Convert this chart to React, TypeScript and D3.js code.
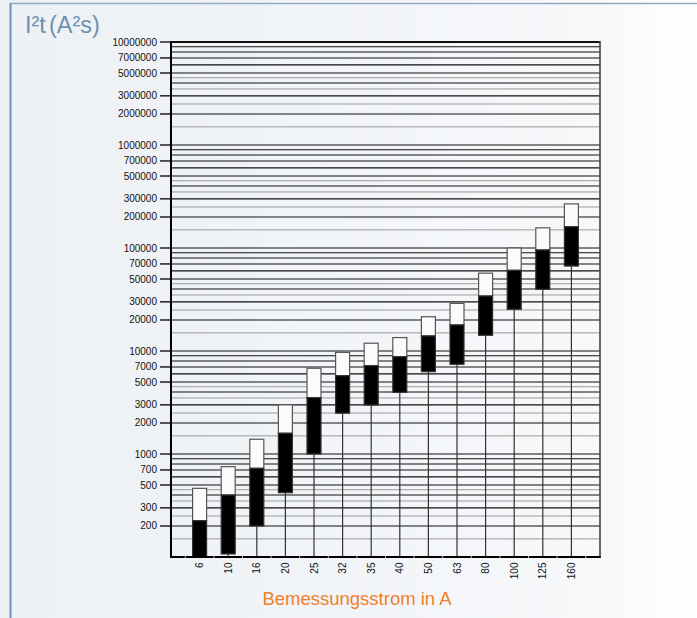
import React from 'react';
import * as d3 from 'd3';

const categories = ['6', '10', '16', '20', '25', '32', '35', '40', '50', '63', '80', '100', '125', '160'];
const topValues = [464, 753, 1390, 3000, 6800, 9700, 11900, 13500, 21500, 29000, 57000, 100000, 157000, 268000];
const midValues = [225, 400, 726, 1590, 3520, 5760, 7200, 8800, 14000, 17900, 34200, 60700, 95700, 161000];
const bottomValues = [100, 107, 200, 421, 1000, 2490, 2990, 3970, 6300, 7430, 14200, 25400, 39700, 66800];
const tickLabels = [200, 300, 500, 700, 1000, 2000, 3000, 5000, 7000, 10000, 20000, 30000, 50000, 70000,
  100000, 200000, 300000, 500000, 700000, 1000000, 2000000, 3000000, 5000000, 7000000, 10000000];
const yTitle = 'I²t (A²s)';
const xTitle = 'Bemessungsstrom in A';

const W = 697, H = 618;
const left = 171, right = 600, top = 42, bottom = 557;
const FONT = 'Liberation Sans, Arial, Helvetica, sans-serif';

export default function App() {
  const y = d3.scaleLog().domain([100, 1e7]).range([bottom, top]);
  const x = d3.scalePoint<string>().domain(categories).range([left, right]).padding(1);
  const step = x.step();

  const blackLines: number[] = [];
  const grayLines: number[] = [];
  for (let k = 2; k <= 6; k++) {
    const p = Math.pow(10, k);
    for (let m = 1; m <= 9; m++) blackLines.push(m * p);
    [1.5, 2.5, 3.5, 4.5].forEach((m) => grayLines.push(m * p));
  }
  blackLines.push(1e7);

  const bw = 14;
  const bandTicks = d3.range(categories.length + 1).map((i) => left + step * (i + 0.5));

  return (
    <svg width={W} height={H} style={{ position: 'absolute', left: 0, top: 0 }} fontFamily={FONT}>
      <defs>
        <linearGradient id="bg" x1="0" x2="1" y1="0" y2="0">
          <stop offset="0" stopColor="#edf0f4" />
          <stop offset="0.85" stopColor="#f6f8fa" />
          <stop offset="1" stopColor="#ffffff" />
        </linearGradient>
      </defs>
      <rect x={0} y={0} width={W} height={H} fill="url(#bg)" />
      <line x1={10} x2={W} y1={3.5} y2={3.5} stroke="#93abc2" strokeWidth={1.5} />
      <line x1={10.5} x2={10.5} y1={3} y2={H} stroke="#6e93b6" strokeWidth={2} />

      <text x={25} y={32.5} fontSize={23.5} fill="#7090b0" wordSpacing={-3.5}>{yTitle}</text>

      {grayLines.map((v) => (
        <line key={'g' + v} x1={left} x2={right} y1={y(v)} y2={y(v)} stroke="#9a9a9a" strokeWidth={1} />
      ))}
      {blackLines.map((v) => (
        <line key={'b' + v} x1={left} x2={right} y1={y(v)} y2={y(v)} stroke="#111" strokeWidth={v === 1e7 ? 2 : 1.1} />
      ))}

      {categories.map((c, i) => {
        const cx = x(c) as number;
        const yt = y(topValues[i]);
        const ym = y(midValues[i]);
        const yb = y(bottomValues[i]);
        return (
          <g key={c}>
            <line x1={cx} x2={cx} y1={yb} y2={bottom} stroke="#333" strokeWidth={1.2} />
            <rect x={cx - bw / 2} y={yt} width={bw} height={ym - yt} fill="#fbfbfb" stroke="#555" strokeWidth={1.2} />
            <rect x={cx - bw / 2} y={ym} width={bw} height={yb - ym} fill="#000" stroke="#333" strokeWidth={1.2} />
          </g>
        );
      })}

      <line x1={right} x2={right} y1={top - 1} y2={bottom} stroke="#444" strokeWidth={1.6} />
      <line x1={left} x2={left} y1={top - 1} y2={bottom + 1} stroke="#000" strokeWidth={2} />
      <line x1={left} x2={right + 0.8} y1={bottom} y2={bottom} stroke="#000" strokeWidth={2} />
      {bandTicks.map((t, i) => (
        <line key={'bt' + i} x1={t} x2={t} y1={bottom - 1} y2={bottom + 1} stroke="#bbb" strokeWidth={1} />
      ))}

      {tickLabels.map((v) => (
        <g key={'t' + v}>
          <line x1={left - 11} x2={left} y1={y(v)} y2={y(v)} stroke="#000" strokeWidth={1.3} />
          <text x={left - 14} y={y(v)} dy="0.35em" textAnchor="end" fontSize={10} fill="#111">{v}</text>
        </g>
      ))}

      {categories.map((c) => (
        <text key={'x' + c} transform={`translate(${(x(c) as number) + 3.5},${bottom + 5.5}) rotate(-90)`}
          textAnchor="end" fontSize={10} fill="#111">{c}</text>
      ))}

      <text x={357} y={605} textAnchor="middle" fontSize={18.5} fill="#f07f2b">{xTitle}</text>
    </svg>
  );
}
